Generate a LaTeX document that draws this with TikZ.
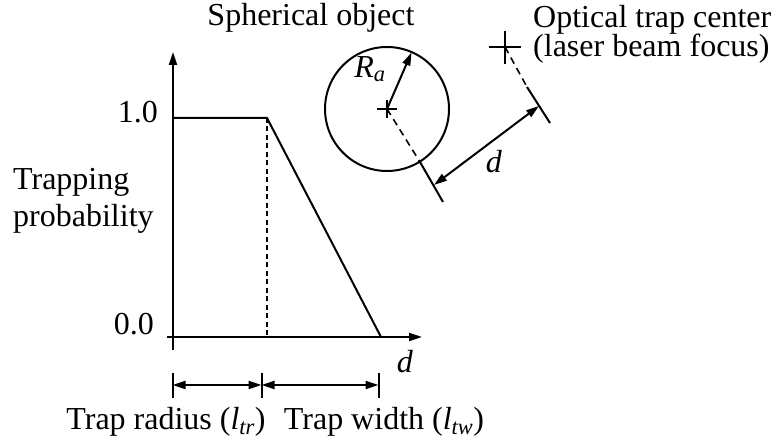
\documentclass[tikz,border=0pt]{standalone}
\usepackage{amsmath}
\usepackage{fontspec}
\setmainfont{Liberation Serif}
\usetikzlibrary{arrows.meta}
\pgfdeclarelayer{edgelayer}
\pgfdeclarelayer{nodelayer}
\pgfsetlayers{edgelayer,nodelayer,main}
\tikzstyle{edge}=[draw=black, line width=2pt]
\tikzstyle{axisline}=[edge, -{Triangle[length=13pt,width=8pt]}]
\tikzstyle{dimline}=[edge, {Triangle[length=13pt,width=8pt]}-{Triangle[length=13pt,width=8pt]}]
\tikzstyle{guide}=[draw=black, line width=1.6pt, dash pattern=on 5pt off 3.5pt]
\tikzstyle{txt}=[inner sep=0pt, font=\fontsize{32}{38}\selectfont]

\begin{document}
\begin{tikzpicture}[x=1pt, y=1pt]
			\useasboundingbox (0,0) rectangle (775,443);
			\begin{pgfonlayer}{nodelayer}
				\coordinate (1) at (173, 93);
				\coordinate (2) at (173, 391);
				\coordinate (3) at (167, 106);
				\coordinate (4) at (422, 106);
				\coordinate (5) at (173, 325);
				\coordinate (6) at (267, 325);
				\coordinate (7) at (381, 106);
				\coordinate (8) at (267, 106);
				\coordinate (9) at (172.5, 58);
				\coordinate (10) at (261.5, 58);
				\coordinate (11) at (378.5, 58);
				\coordinate (12) at (387, 334);
				\coordinate (13) at (411.5, 390.5);
				\coordinate (14) at (505, 396);
				\coordinate (15) at (420, 281);
				\coordinate (16) at (443, 241);
				\coordinate (17) at (527, 356);
				\coordinate (18) at (550, 320);
				\coordinate (19) at (434, 258);
				\coordinate (20) at (539, 337);
				\node [style=txt, anchor=base] (21) at (311, 417) {Spherical object};
				\node [style=txt, anchor=base west] (22) at (533, 415) {Optical trap center};
				\node [style=txt, anchor=base west] (23) at (533, 386) {(laser beam focus)};
				\node [style=txt, anchor=base] (24) at (370, 365) {$\textit{R}_{\textit{a}}$};
				\node [style=txt, anchor=base] (25) at (494, 270) {\textit{d}};
				\node [style=txt, anchor=base east] (26) at (158, 320) {1.0};
				\node [style=txt, anchor=base east] (27) at (154, 108) {0.0};
				\node [style=txt, anchor=base west] (28) at (13, 253) {Trapping};
				\node [style=txt, anchor=base west] (29) at (13, 216) {probability};
				\node [style=txt, anchor=base] (30) at (405, 70) {\textit{d}};
				\node [style=txt, anchor=base] (31) at (166, 13) {Trap radius ($\textit{l}_{\textit{tr}}$)};
				\node [style=txt, anchor=base] (32) at (384, 13) {Trap width ($\textit{l}_{\textit{tw}}$)};
			\end{pgfonlayer}
			\begin{pgfonlayer}{edgelayer}
				\draw [style=axisline] (1) to (2);
				\draw [style=axisline] (3) to (4);
				\draw [style=edge] (5) to (6) to (7);
				\draw [style=guide] (6) to (8);
				\draw [style=edge] ([yshift=-13pt]9) to ([yshift=12pt]9);
				\draw [style=edge] ([yshift=-13pt]10) to ([yshift=12pt]10);
				\draw [style=edge] ([yshift=-13pt]11) to ([yshift=12pt]11);
				\draw [style=dimline] (9) to (10);
				\draw [style=dimline] (10) to (11);
				\draw [style=edge] (12) circle [radius=62];
				\draw [style=edge] ([xshift=-10pt]12) to ([xshift=10pt]12);
				\draw [style=edge] ([yshift=-9pt]12) to ([yshift=9pt]12);
				\draw [style=axisline] (12) to (13);
				\draw [style=edge] ([xshift=-16pt]14) to ([xshift=16pt]14);
				\draw [style=edge] ([yshift=-17pt]14) to ([yshift=16pt]14);
				\draw [style=guide, dash pattern=on 7pt off 5pt] (12) to (15);
				\draw [style=guide, dash pattern=on 7pt off 5pt] (14) to (17);
				\draw [style=edge] (15) to (16);
				\draw [style=edge] (17) to (18);
				\draw [style=dimline] (19) to (20);
			\end{pgfonlayer}
		\end{tikzpicture}
\end{document}
